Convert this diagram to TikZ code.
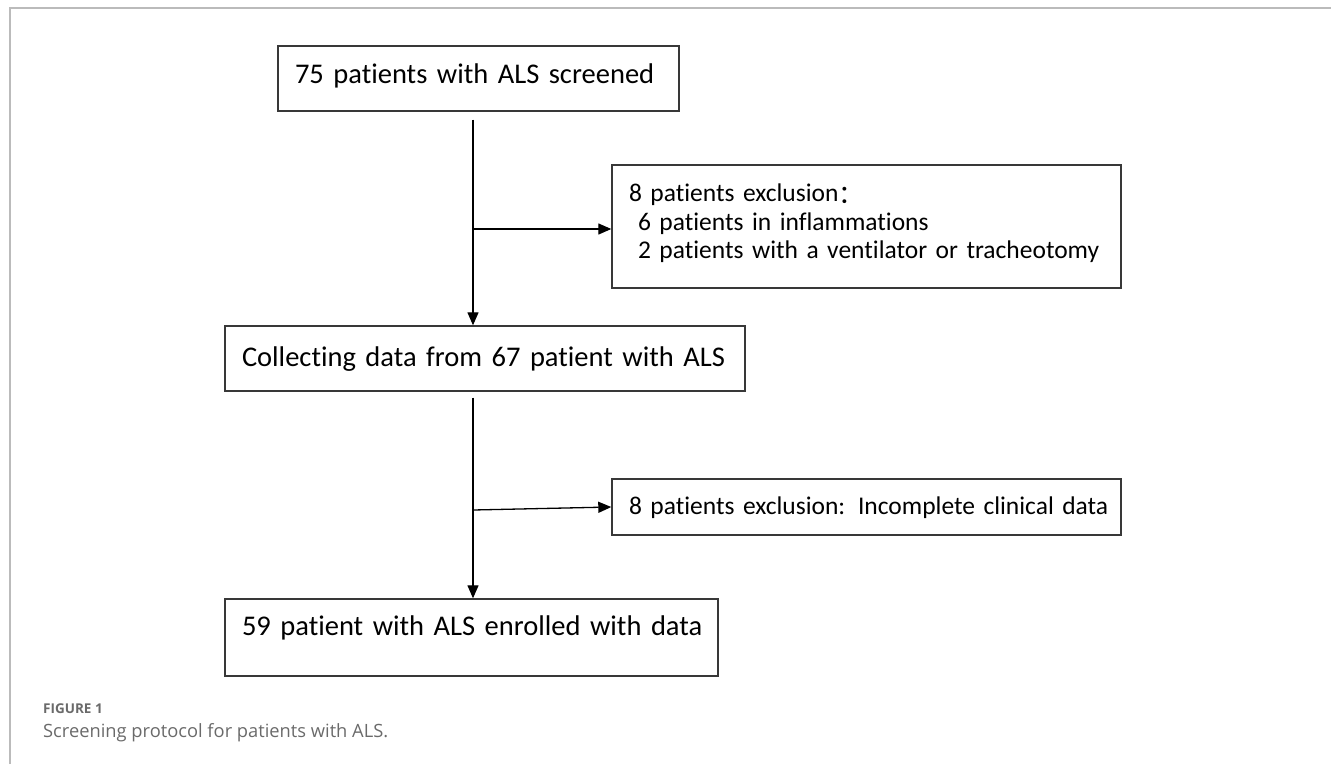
\documentclass[tikz,border=0pt]{standalone}
\usepackage{fontspec}
\setmainfont{Carlito}[Ligatures={NoCommon}]
\newfontfamily\capfont{Open Sans}
\newfontfamily\cjk{Noto Sans CJK SC}
\usetikzlibrary{arrows.meta,calc}
\definecolor{framegray}{HTML}{BBBBBB}
\definecolor{boxline}{HTML}{383838}
\definecolor{capgray}{HTML}{6A6A6A}
\newcommand\ind{\hspace*{17pt}}
\tikzset{
  flowbox/.style={draw=boxline, line width=1.4pt, inner xsep=0pt, inner ysep=0pt, align=left, anchor=center, font=\fontsize{28.5}{34}\selectfont},
  exbox/.style={flowbox, font=\fontsize{25.5}{28.5}\selectfont},
  conn/.style={draw=black, line width=1.3pt, -{Triangle[length=13pt,width=11pt]}}
}
\begin{document}
\begin{tikzpicture}[x=1pt,y=-1pt]
\useasboundingbox (0,0) rectangle (1331,764);
\draw[framegray, line width=1.6pt] (10,764) -- (10,8) -- (1331,8);

\node[flowbox, minimum width=401pt, minimum height=65pt, text width=401pt, text height=20pt, text depth=11pt] (b1) at (478.5,78.5) {\ind 75 patients with ALS screened};
\node[flowbox, minimum width=520pt, minimum height=65pt, text width=520pt, text height=20pt, text depth=5pt] (b2) at (485,358.5) {\ind Collecting data from 67 patient with ALS};
\node[flowbox, minimum width=493pt, minimum height=77pt, text width=493pt, text height=20pt, text depth=25pt] (b4) at (471.5,637.5) {\ind 59 patient with ALS enrolled with data};
\node[exbox, minimum width=509pt, minimum height=123pt, text width=509pt] (b3) at (866.5,226.5) {\ind 8 patients exclusion{\cjk\raisebox{-2pt}{：}}\\\ind\hspace*{9pt}6 patients in inflammations\\\ind\hspace*{9pt}2 patients with a ventilator or tracheotomy\rule[-10pt]{0pt}{10pt}};
\node[exbox, minimum width=509pt, minimum height=56pt, text width=509pt, text height=20pt, text depth=6pt] (b5) at (866.5,507) {\ind 8 patients exclusion: Incomplete clinical data};

\coordinate (x1) at (473,0);
\coordinate (j1) at (473,229);
\coordinate (j2) at (473,510);

\draw[conn, shorten <=8pt] (b1.south -| x1) -- (b2.north -| x1);
\draw[conn] (j1) -- (j1 -| b3.west);
\draw[conn, shorten <=6pt] (b2.south -| x1) -- (b4.north -| x1);
\draw[conn] (j2) -- (b5.west);

\node[anchor=base west, inner sep=0pt, text=capgray, font=\capfont\bfseries\fontsize{13.5}{16}\selectfont] (fig) at (43,713) {FIGURE 1};
\node[anchor=base west, inner sep=0pt, text=capgray, font=\capfont\fontsize{18.3}{20}\selectfont] (cap) at (43,737) {Screening protocol for patients with ALS.};
\end{tikzpicture}
\end{document}
